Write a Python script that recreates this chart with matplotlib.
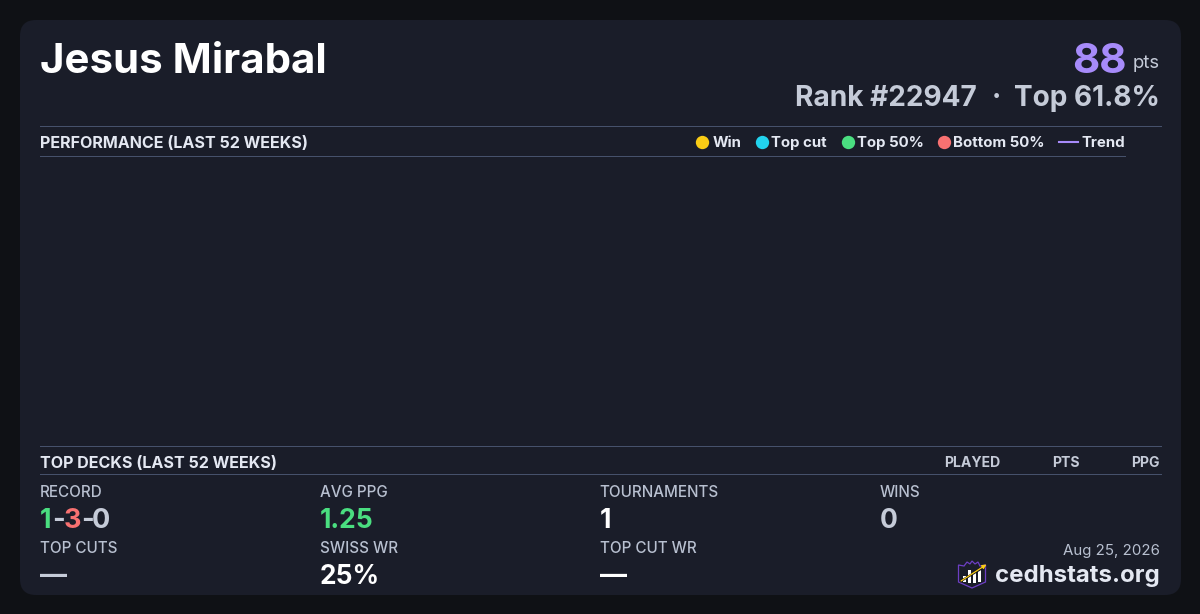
import matplotlib
matplotlib.use("Agg")
import matplotlib.pyplot as plt
from matplotlib.patches import FancyBboxPatch, Rectangle, Polygon
from matplotlib.lines import Line2D

plt.rcParams['font.family'] = ['Inter', 'DejaVu Sans']

# ---- content ----
player_name = "Jesus Mirabal"
points = "88"
points_unit = "pts"
rank_text = "Rank #22947"
rank_sep = "·"
top_text = "Top 61.8%"
performance_title = "PERFORMANCE (LAST 52 WEEKS)"
legend_labels = ["Win", "Top cut", "Top 50%", "Bottom 50%"]
legend_colors = ["#facc15", "#22d3ee", "#4ade80", "#f87171"]
trend_label = "Trend"
decks_title = "TOP DECKS (LAST 52 WEEKS)"
deck_columns = ["PLAYED", "PTS", "PPG"]
stat_labels_top = ["RECORD", "AVG PPG", "TOURNAMENTS", "WINS"]
stat_labels_bottom = ["TOP CUTS", "SWISS WR", "TOP CUT WR"]
stat_values_bottom = ["—", "25%", "—"]
avg_ppg = "1.25"
tournaments = "1"
wins = "0"
record_parts = ["1", "-", "3", "-", "0"]
date_text = "Aug 25, 2026"
site_text = "cedhstats.org"

BG = "#0f1115"
CARD = "#1a1d29"
RULE = "#46516b"
MUTED = "#b8c0d0"
SOFT = "#c5cbd8"
LIGHT = "#e4e8f2"
PURPLE = "#a78bfa"
GREEN = "#4ade80"
RED = "#f87171"

W, H = 1200, 614
fig = plt.figure(figsize=(12, 6.14), dpi=100, facecolor=BG)
ax = fig.add_axes([0, 0, 1, 1])
ax.set_xlim(0, W)
ax.set_ylim(H, 0)
ax.axis("off")

ax.add_patch(FancyBboxPatch((20, 20), 1161, 575, boxstyle="round,pad=0,rounding_size=16",
                            fc=CARD, ec="none", zorder=0))


def px(size):
    return size * 72 / 100


def txt(x, y, s, size, color, weight="normal", ha="left", va="baseline"):
    return ax.text(x, y, s, fontsize=px(size), color=color, fontweight=weight,
                   ha=ha, va=va, zorder=3)


def rule(x0, x1, y):
    ax.add_line(Line2D([x0, x1], [y, y], color=RULE, lw=0.72, zorder=2))


# header
txt(40, 73, player_name, 42, "white", "bold")
txt(1160, 68, points_unit, 18.5, SOFT, ha="right")
txt(1127, 73, points, 42, PURPLE, "bold", ha="right")
txt(977, 106, rank_text, 28, SOFT, "bold", ha="right")
txt(996, 106, rank_sep, 28, SOFT, "bold", ha="center")
txt(1159.5, 106, top_text, 28, SOFT, "bold", ha="right")

# performance band
rule(40, 1160.5, 125.6)
rule(40, 1124.5, 155.6)
txt(40, 147.5, performance_title, 16.1, LIGHT, "bold")

legend_dot_x = [702, 761.5, 847.5, 943.5]
legend_text_x = [712.5, 771, 857, 953]
for dx, tx, label, color in zip(legend_dot_x, legend_text_x, legend_labels, legend_colors):
    ax.plot([dx], [141.5], marker="o", ms=9.6, mfc=color, mec="none", ls="none", zorder=3)
    txt(tx, 147, label, 15, LIGHT, "bold")
ax.add_line(Line2D([1059, 1078], [141.8, 141.8], color=PURPLE, lw=1.5, zorder=3))
txt(1081, 147, trend_label, 15, LIGHT, "bold")

# decks band
rule(40, 1160.5, 445.6)
rule(40, 1160.5, 473.6)
txt(40, 467.5, decks_title, 16.1, LIGHT, "bold")
for x, label in zip([1000, 1080, 1160], deck_columns):
    txt(x, 467, label, 14, SOFT, "bold", ha="right")

# stats
col_x = [40, 320, 599.5, 880]
for x, label in zip(col_x, stat_labels_top):
    txt(x, 497.4, label, 15.2, MUTED, "medium")
for x, label in zip(col_x, stat_labels_bottom):
    txt(x, 553.4, label, 15.2, MUTED, "medium")

# multi-coloured record
record_colors = [GREEN, SOFT, RED, SOFT, SOFT]
record_x = [39.5, 52.5, 63.2, 81.2, 91.4]
for x, part, color in zip(record_x, record_parts, record_colors):
    txt(x, 528, part, 27, color, "bold")

txt(320, 528, avg_ppg, 26.5, GREEN, "bold")
txt(600, 528, tournaments, 26.5, "white", "bold")
txt(880, 528, wins, 26.5, SOFT, "bold")

txt(40, 584, stat_values_bottom[0], 27, SOFT, "bold")
txt(320, 584, stat_values_bottom[1], 26.3, "white", "bold")
txt(600, 584, stat_values_bottom[2], 27, "white", "bold")

# footer
txt(1160, 555, date_text, 15, MUTED, ha="right")
txt(1160, 582, site_text, 24, LIGHT, "bold", ha="right")

# logo (decorative)
ax.add_patch(Polygon([(958.5, 565), (964, 566), (967, 562), (970, 564), (972, 561),
                      (975, 564), (978, 562), (980, 566), (985.5, 565), (985.5, 582),
                      (972, 588), (958.5, 582)],
                     closed=True, fc="none", ec="#6d3fc4", lw=0.9, zorder=3))
for x0, y0, h in [(963, 576, 6), (968, 570, 13), (973, 572, 11), (978, 569, 13)]:
    ax.add_patch(Rectangle((x0, y0), 3.2, h, fc="white", ec="none", zorder=3))
ax.add_line(Line2D([961, 984], [581, 567], color="#111318", lw=1.6, zorder=4))
ax.annotate("", xy=(986.5, 564.5), xytext=(961, 581),
            arrowprops=dict(arrowstyle="-|>", color="#facc15", lw=0.9, mutation_scale=6,
                            shrinkA=0, shrinkB=0),
            zorder=5)

fig.savefig("out.png", dpi=100, facecolor=BG)
